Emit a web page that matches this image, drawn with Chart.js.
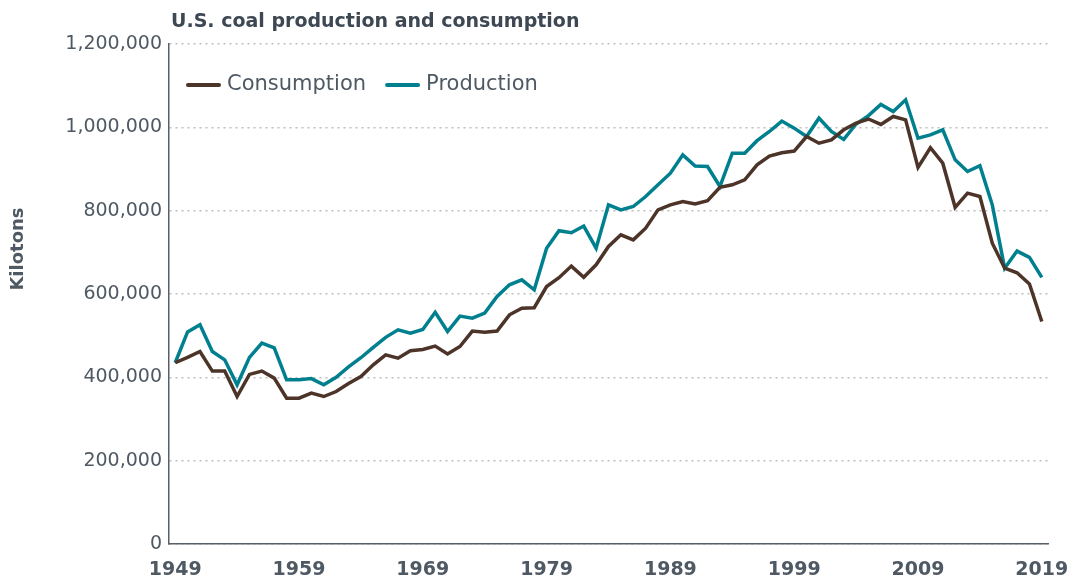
<!DOCTYPE html>
<html>
<head>
<meta charset="utf-8">
<script src="https://cdn.jsdelivr.net/npm/chart.js@4.4.1/dist/chart.umd.min.js"></script>
<style>
    html, body { margin: 0; padding: 0; background: #ffffff; }
    #wrap { width: 1068px; height: 581px; position: relative; }
</style>
</head>
<body>
<div id="wrap"><canvas id="coalChart"></canvas></div>
<script>
const years = [
    1949, 1950, 1951, 1952, 1953, 1954, 1955, 1956, 1957, 1958,
    1959, 1960, 1961, 1962, 1963, 1964, 1965, 1966, 1967, 1968,
    1969, 1970, 1971, 1972, 1973, 1974, 1975, 1976, 1977, 1978,
    1979, 1980, 1981, 1982, 1983, 1984, 1985, 1986, 1987, 1988,
    1989, 1990, 1991, 1992, 1993, 1994, 1995, 1996, 1997, 1998,
    1999, 2000, 2001, 2002, 2003, 2004, 2005, 2006, 2007, 2008,
    2009, 2010, 2011, 2012, 2013, 2014, 2015, 2016, 2017, 2018,
    2019
];

// kilotons
const consumption = [
    435000, 448000, 462000, 415000, 415000, 354000, 407000, 415000, 398000, 350000,
    350000, 362000, 354000, 366000, 385000, 402000, 430000, 454000, 446000, 464000,
    467000, 475000, 456000, 474000, 511000, 508000, 511000, 550000, 566000, 567000,
    618000, 639000, 667000, 640000, 670000, 714000, 742000, 730000, 758000, 802000,
    814000, 822000, 816000, 824000, 856000, 862000, 874000, 910000, 931000, 939000,
    943000, 978000, 962000, 970000, 994000, 1010000, 1020000, 1007000, 1026000, 1018000,
    904000, 951000, 914000, 808000, 842000, 834000, 722000, 662000, 651000, 624000,
    534000
];

const production = [
    435000, 509000, 526000, 462000, 442000, 382000, 448000, 482000, 471000, 394000,
    394000, 397000, 382000, 400000, 425000, 447000, 472000, 496000, 514000, 506000,
    515000, 556000, 510000, 547000, 542000, 554000, 594000, 622000, 634000, 610000,
    710000, 752000, 747000, 763000, 710000, 814000, 802000, 810000, 834000, 862000,
    890000, 934000, 907000, 906000, 858000, 938000, 938000, 968000, 990000, 1015000,
    998000, 978000, 1022000, 990000, 971000, 1008000, 1028000, 1055000, 1038000, 1066000,
    974000, 982000, 994000, 922000, 894000, 908000, 814000, 662000, 703000, 688000,
    640000
];

const yearTicks = [1949, 1959, 1969, 1979, 1989, 1999, 2009, 2019];
const chartTitle = 'U.S. coal production and consumption';
const yAxisLabel = 'Kilotons';

const textGrey = '#4f5963';
const fontName = '"DejaVu Sans", sans-serif';

// title, rotated axis label and the in-plot legend, drawn straight on the canvas
const headerPlugin = {
    id: 'header',
    afterDraw(chart) {
        const ctx = chart.ctx;
        ctx.save();
        ctx.fillStyle = '#3e4852';
        ctx.font = 'bold 19px ' + fontName;
        ctx.textBaseline = 'alphabetic';
        ctx.textAlign = 'left';
        ctx.fillText(chartTitle, 171, 27);

        // legend: short line + label for each dataset
        let x = chart.chartArea.left + 19;
        const y = 85;
        ctx.font = '21px ' + fontName;
        ctx.textBaseline = 'middle';
        chart.data.datasets.forEach(function(ds) {
            ctx.strokeStyle = ds.borderColor;
            ctx.lineWidth = 4;
            ctx.lineCap = 'round';
            ctx.beginPath();
            ctx.moveTo(x, y);
            ctx.lineTo(x + 31, y);
            ctx.stroke();
            ctx.fillStyle = textGrey;
            ctx.fillText(ds.label, x + 39, y);
            x += 39 + ctx.measureText(ds.label).width + 21;
        });

        ctx.translate(18, 249);
        ctx.rotate(-Math.PI / 2);
        ctx.textAlign = 'center';
        ctx.textBaseline = 'middle';
        ctx.font = 'bold 18px ' + fontName;
        ctx.fillStyle = textGrey;
        ctx.fillText(yAxisLabel, 0, 0);
        ctx.restore();
    }
};

function renderCoalChart() {
    const ctx = document.getElementById('coalChart').getContext('2d');

    const data = {
        labels: years,
        datasets: [{
            label: 'Consumption',
            data: consumption,
            borderColor: '#4d3429',
            backgroundColor: '#4d3429',
            borderWidth: 3.5,
            pointRadius: 0,
            tension: 0
        }, {
            label: 'Production',
            data: production,
            borderColor: '#00808f',
            backgroundColor: '#00808f',
            borderWidth: 3.5,
            pointRadius: 0,
            tension: 0
        }]
    };

    const config = {
        type: 'line',
        data: data,
        options: {
            responsive: true,
            maintainAspectRatio: false,
            animation: false,
            layout: {
                padding: { left: 0, right: 20, top: 44, bottom: 0 }
            },
            scales: {
                x: {
                    offset: true,
                    grid: { display: false, drawTicks: false },
                    border: { display: true, color: '#56606a', width: 1.5 },
                    ticks: {
                        autoSkip: false,
                        maxRotation: 0,
                        padding: 15,
                        color: textGrey,
                        font: { family: fontName, size: 19, weight: '600' },
                        callback: function(value) {
                            const yr = years[value];
                            return yearTicks.includes(yr) ? String(yr) : '';
                        }
                    },
                    afterFit: function(scale) {
                        scale.height = 37;
                        // let the last year label hang past the plot edge
                        scale.paddingLeft = 0;
                        scale.paddingRight = 0;
                    }
                },
                y: {
                    min: 0,
                    max: 1200000,
                    grid: {
                        color: '#bdbdbd',
                        lineWidth: 1.5,
                        drawTicks: false
                    },
                    border: { display: true, color: '#56606a', width: 1.5, dash: [2, 4] },
                    ticks: {
                        stepSize: 200000,
                        padding: 7,
                        color: textGrey,
                        font: { family: fontName, size: 19 },
                        callback: function(value) { return value.toLocaleString('en-US'); }
                    },
                    afterFit: function(scale) {
                        scale.width = 169;
                        scale.paddingTop = 0;
                        scale.paddingBottom = 0;
                    }
                }
            },
            plugins: {
                legend: { display: false },
                tooltip: { enabled: false }
            }
        },
        plugins: [headerPlugin]
    };

    new Chart(ctx, config);
}

document.addEventListener('DOMContentLoaded', renderCoalChart);
</script>
</body>
</html>
